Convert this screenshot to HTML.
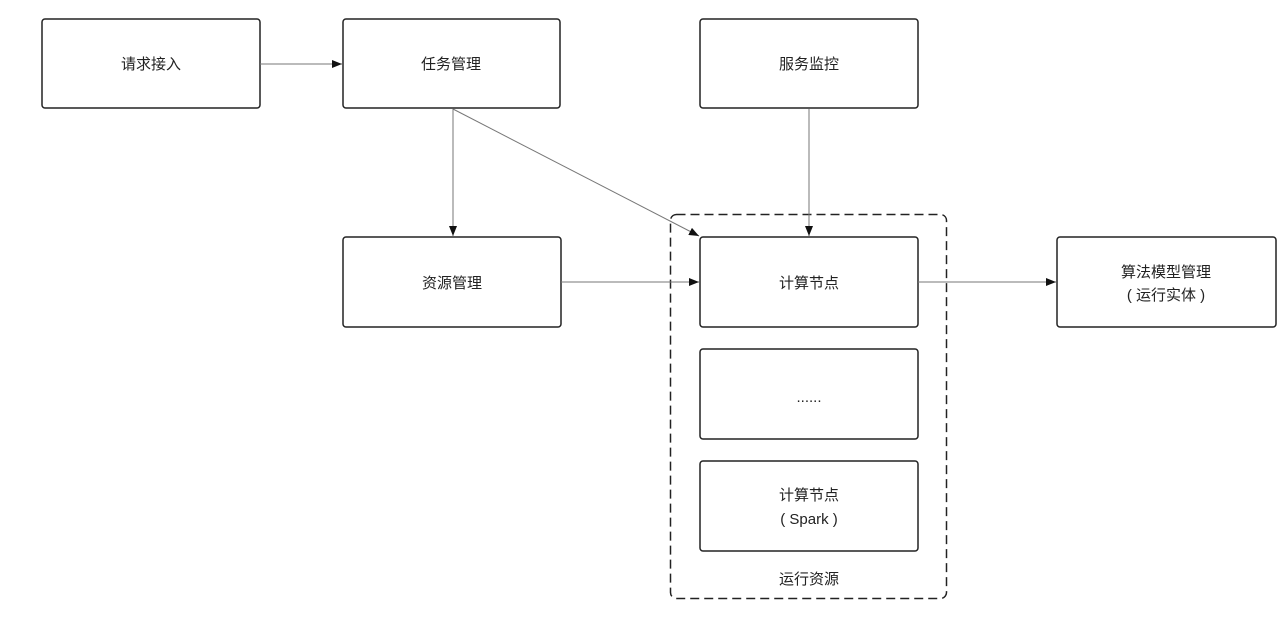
<!DOCTYPE html>
<html><head><meta charset="utf-8"><style>
body{margin:0;background:#fff;}
svg text{font-family:"Liberation Sans","Noto Sans CJK SC",sans-serif;font-size:15px;fill:#222;text-anchor:middle;}
</style></head><body>
<svg width="1280" height="625" viewBox="0 0 1280 625" xmlns="http://www.w3.org/2000/svg">
<defs><marker id="a" markerWidth="10" markerHeight="8" refX="10" refY="4" orient="auto" markerUnits="userSpaceOnUse"><path d="M0,0 L10,4 L0,8 z" fill="#111"/></marker></defs>
<rect x="670.5" y="214.5" width="276" height="384" rx="6" fill="none" stroke="#222" stroke-width="1.5" stroke-dasharray="9,5"/>
<g fill="#fff" stroke="#222" stroke-width="1.5">
<rect x="42" y="19" width="218" height="89" rx="3"/>
<rect x="343" y="19" width="217" height="89" rx="3"/>
<rect x="700" y="19" width="218" height="89" rx="3"/>
<rect x="343" y="237" width="218" height="90" rx="3"/>
<rect x="700" y="237" width="218" height="90" rx="3"/>
<rect x="700" y="349" width="218" height="90" rx="3"/>
<rect x="700" y="461" width="218" height="90" rx="3"/>
<rect x="1057" y="237" width="219" height="90" rx="3"/>
</g>
<g stroke="#777" stroke-width="1" fill="none" marker-end="url(#a)">
<line x1="260" y1="64" x2="342" y2="64"/>
<line x1="453" y1="109" x2="453" y2="236"/>
<line x1="453" y1="109" x2="699" y2="236"/>
<line x1="809" y1="109" x2="809" y2="236"/>
<line x1="561" y1="282" x2="699" y2="282"/>
<line x1="918" y1="282" x2="1056" y2="282"/>
</g>
<text x="151" y="69">请求接入</text>
<text x="451" y="69">任务管理</text>
<text x="809" y="69">服务监控</text>
<text x="452" y="288">资源管理</text>
<text x="809" y="288">计算节点</text>
<text x="809" y="402">......</text>
<text x="809" y="500">计算节点</text>
<text x="809" y="524">( Spark )</text>
<text x="1166" y="277">算法模型管理</text>
<text x="1166" y="300">( 运行实体 )</text>
<text x="809" y="584">运行资源</text>
</svg>
</body></html>
